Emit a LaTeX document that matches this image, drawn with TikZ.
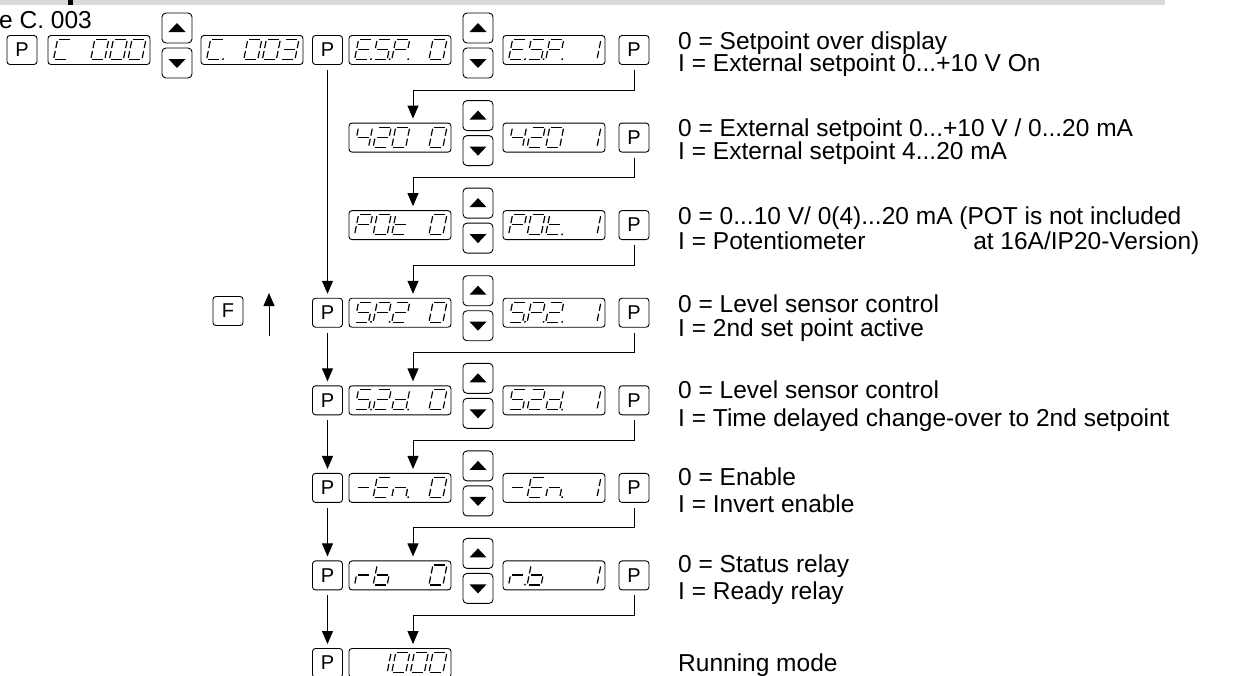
\documentclass[tikz,border=0pt]{standalone}
\usepackage{fontspec}
\setmainfont{Liberation Sans}
\usetikzlibrary{arrows.meta,calc}
% seven-segment geometry (local units, y downwards)
\def\SgA{1.5/0/12.5/0}
\def\SgB{14/1.5/14/8.5}
\def\SgC{14/11.5/14/18.5}
\def\SgD{1.5/20/12.5/20}
\def\SgE{0/11.5/0/18.5}
\def\SgF{0/1.5/0/8.5}
\def\SgG{1.5/10/12.5/10}
\edef\ChC{\SgA,\SgD,\SgE,\SgF}
\edef\ChZero{\SgA,\SgB,\SgC,\SgD,\SgE,\SgF}
\edef\ChOne{\SgB,\SgC}
\edef\ChTwo{\SgA,\SgB,\SgG,\SgE,\SgD}
\edef\ChThree{\SgA,\SgB,\SgG,\SgC,\SgD}
\edef\ChFour{\SgF,\SgG,\SgB,\SgC}
\edef\ChE{\SgA,\SgD,\SgE,\SgF,\SgG}
\edef\ChS{\SgA,\SgF,\SgG,\SgC,\SgD}
\edef\ChP{\SgA,\SgB,\SgE,\SgF,\SgG}
\edef\ChT{\SgD,\SgE,\SgF,\SgG}
\edef\ChR{\SgE,\SgG}
\edef\ChB{\SgC,\SgD,\SgE,\SgF,\SgG}
\edef\ChD{\SgB,\SgC,\SgD,\SgE,\SgG}
\edef\ChN{\SgC,\SgE,\SgG}
\edef\ChMinus{\SgG}
\newcommand\dig[3]{%
  \begin{scope}[shift={(#1.north west)},shift={({10+18.6*#2},4.5)},xslant=0.2]
    \foreach \xa/\ya/\xb/\yb in #3 {\draw[seg] (\xa,\ya) -- (\xb,\yb);}
  \end{scope}}
\newcommand\segdot[2]{%
  \begin{scope}[shift={(#1.north west)},shift={({10+18.6*#2},4.5)},xslant=0.2]
    \fill (15.6,18.9) rectangle (17.1,20.4);
  \end{scope}}
\newcommand\updown[3]{%
  \node[arw] (#1u) at (#2,#3-22) {};
  \node[arw] (#1d) at (#2,#3+13) {};
  \fill ([shift={(-8.5,4)}]#1u.center) -- ++(17,0) -- ++(-8.5,-9) -- cycle;
  \fill ([shift={(-8.5,-4)}]#1d.center) -- ++(17,0) -- ++(-8.5,9) -- cycle;}
\tikzset{
  btn/.style={draw, rounded corners=3pt, minimum width=30pt, minimum height=29pt,
    inner sep=0pt, line width=0.9pt, font=\fontsize{20}{20}\selectfont},
  disp/.style={draw, rounded corners=3pt, minimum width=102pt, minimum height=29pt,
    inner sep=0pt, line width=0.9pt},
  arw/.style={draw, rounded corners=4pt, minimum width=30pt, minimum height=30pt,
    inner sep=0pt, line width=0.9pt},
  seg/.style={line width=1.2pt},
  conn/.style={line width=0.9pt, -{Triangle[length=13pt,width=11pt]},
    shorten <=5pt, shorten >=4pt},
  desc/.style={anchor=base west, inner sep=0pt, font=\fontsize{24.5}{24.5}\selectfont},
}
\begin{document}
\begin{tikzpicture}[x=1pt,y=-1pt]
\useasboundingbox (0,0) rectangle (1255,675);
\fill[black!15] (0,0) rectangle (1165,4.5);
\fill (68,0) rectangle (72.5,4.5);
\node[desc] (hdr) at (-1,28) {e C. 003};

% ---------- row 1 ----------
\node[btn] (p1a) at (22,50) {P};
\node[disp] (d1a) at (99,50) {};
\dig{d1a}{0}{\ChC}\dig{d1a}{2}{\ChZero}\dig{d1a}{3}{\ChZero}\dig{d1a}{4}{\ChZero}
\updown{ua}{177}{50}
\node[disp] (d1b) at (252,50) {};
\dig{d1b}{0}{\ChC}\segdot{d1b}{0}\dig{d1b}{2}{\ChZero}\dig{d1b}{3}{\ChZero}\dig{d1b}{4}{\ChThree}
\node[btn] (p1b) at (327.5,50) {P};
\node[disp] (d1L) at (400,50) {};
\dig{d1L}{0}{\ChE}\segdot{d1L}{0}\dig{d1L}{1}{\ChS}\segdot{d1L}{1}\dig{d1L}{2}{\ChP}\segdot{d1L}{2}\dig{d1L}{4}{\ChZero}
\updown{u1}{478}{50}
\node[disp] (d1R) at (554,50) {};
\dig{d1R}{0}{\ChE}\segdot{d1R}{0}\dig{d1R}{1}{\ChS}\segdot{d1R}{1}\dig{d1R}{2}{\ChP}\segdot{d1R}{2}\dig{d1R}{4}{\ChOne}
\node[btn] (p1R) at (634,50) {P};

% ---------- row 2 ----------
\node[disp] (d2L) at (400,137.6) {};
\dig{d2L}{0}{\ChFour}\dig{d2L}{1}{\ChTwo}\dig{d2L}{2}{\ChZero}\dig{d2L}{4}{\ChZero}
\updown{u2}{478}{137.6}
\node[disp] (d2R) at (554,137.6) {};
\dig{d2R}{0}{\ChFour}\dig{d2R}{1}{\ChTwo}\dig{d2R}{2}{\ChZero}\dig{d2R}{4}{\ChOne}
\node[btn] (p2R) at (634,137.6) {P};

% ---------- row 3 ----------
\node[disp] (d3L) at (400,225.1) {};
\dig{d3L}{0}{\ChP}\dig{d3L}{1}{\ChZero}\dig{d3L}{2}{\ChT}\dig{d3L}{4}{\ChZero}
\updown{u3}{478}{225.1}
\node[disp] (d3R) at (554,225.1) {};
\dig{d3R}{0}{\ChP}\dig{d3R}{1}{\ChZero}\dig{d3R}{2}{\ChT}\segdot{d3R}{2}\dig{d3R}{4}{\ChOne}
\node[btn] (p3R) at (634,225.1) {P};

% ---------- row 4 ----------
\node[btn] (fkey) at (228,311) {F};
\coordinate (fa1) at (269,336);
\coordinate (fa2) at (269,293);
\draw[line width=0.9pt, -{Triangle[length=13pt,width=11pt]}] (fa1) -- (fa2);
\node[btn] (p4L) at (327.5,312.7) {P};
\node[disp] (d4L) at (400,312.7) {};
\dig{d4L}{0}{\ChS}\segdot{d4L}{0}\dig{d4L}{1}{\ChP}\segdot{d4L}{1}\dig{d4L}{2}{\ChTwo}\dig{d4L}{4}{\ChZero}
\updown{u4}{478}{312.7}
\node[disp] (d4R) at (554,312.7) {};
\dig{d4R}{0}{\ChS}\segdot{d4R}{0}\dig{d4R}{1}{\ChP}\segdot{d4R}{1}\dig{d4R}{2}{\ChTwo}\segdot{d4R}{2}\dig{d4R}{4}{\ChOne}
\node[btn] (p4R) at (634,312.7) {P};

% ---------- row 5 ----------
\node[btn] (p5L) at (327.5,400.3) {P};
\node[disp] (d5L) at (400,400.3) {};
\dig{d5L}{0}{\ChS}\segdot{d5L}{0}\dig{d5L}{1}{\ChTwo}\dig{d5L}{2}{\ChD}\segdot{d5L}{2}\dig{d5L}{4}{\ChZero}
\updown{u5}{478}{400.3}
\node[disp] (d5R) at (554,400.3) {};
\dig{d5R}{0}{\ChS}\dig{d5R}{1}{\ChTwo}\dig{d5R}{2}{\ChD}\segdot{d5R}{2}\dig{d5R}{4}{\ChOne}
\node[btn] (p5R) at (634,400.3) {P};

% ---------- row 6 ----------
\node[btn] (p6L) at (327.5,487.9) {P};
\node[disp] (d6L) at (400,487.9) {};
\dig{d6L}{0}{\ChMinus}\dig{d6L}{1}{\ChE}\dig{d6L}{2}{\ChN}\segdot{d6L}{2}\dig{d6L}{4}{\ChZero}
\updown{u6}{478}{487.9}
\node[disp] (d6R) at (554,487.9) {};
\dig{d6R}{0}{\ChMinus}\dig{d6R}{1}{\ChE}\dig{d6R}{2}{\ChN}\segdot{d6R}{2}\dig{d6R}{4}{\ChOne}
\node[btn] (p6R) at (634,487.9) {P};

% ---------- row 7 ----------
\node[btn] (p7L) at (327.5,575.4) {P};
\node[disp] (d7L) at (400,575.4) {};
\dig{d7L}{0}{\ChR}\dig{d7L}{1}{\ChB}\dig{d7L}{4}{\ChZero}
\updown{u7}{478}{575.4}
\node[disp] (d7R) at (554,575.4) {};
\dig{d7R}{0}{\ChR}\segdot{d7R}{0}\dig{d7R}{1}{\ChB}\dig{d7R}{4}{\ChOne}
\node[btn] (p7R) at (634,575.4) {P};

% ---------- row 8 ----------
\node[btn] (p8L) at (327.5,663) {P};
\node[disp] (d8) at (400,663) {};
\dig{d8}{1}{\ChOne}\dig{d8}{2}{\ChZero}\dig{d8}{3}{\ChZero}\dig{d8}{4}{\ChZero}

% ---------- connectors ----------
\draw[conn] (p1b.south) -- (p4L.north);
\draw[conn] (p4L.south) -- (p5L.north);
\draw[conn] (p5L.south) -- (p6L.north);
\draw[conn] (p6L.south) -- (p7L.north);
\draw[conn] (p7L.south) -- (p8L.north);
\draw[conn] (p1R.south) -- ++(0,25) -| ([xshift=13pt]d2L.north);
\draw[conn] (p2R.south) -- ++(0,25) -| ([xshift=13pt]d3L.north);
\draw[conn] (p3R.south) -- ++(0,25) -| ([xshift=13pt]d4L.north);
\draw[conn] (p4R.south) -- ++(0,25) -| ([xshift=13pt]d5L.north);
\draw[conn] (p5R.south) -- ++(0,25) -| ([xshift=13pt]d6L.north);
\draw[conn] (p6R.south) -- ++(0,25) -| ([xshift=13pt]d7L.north);
\draw[conn] (p7R.south) -- ++(0,25) -| ([xshift=13pt]d8.north);

% ---------- descriptions ----------
\node[desc] (t1a) at (678,49) {0 = Setpoint over display};
\node[desc] (t1b) at (678,71) {I = External setpoint 0...+10 V On};
\node[desc] (t2a) at (678,136) {0 = External setpoint 0...+10 V / 0...20 mA};
\node[desc] (t2b) at (678,159) {I = External setpoint 4...20 mA};
\node[desc] (t3a) at (678,224) {0 = 0...10 V/ 0(4)...20 mA (POT is not included};
\node[desc] (t3b) at (678,249) {I = Potentiometer\hspace*{4.4em}at 16A/IP20-Version)};
\node[desc] (t4a) at (678,312) {0 = Level sensor control};
\node[desc] (t4b) at (678,336) {I = 2nd set point active};
\node[desc] (t5a) at (678,398) {0 = Level sensor control};
\node[desc] (t5b) at (678,426) {I = Time delayed change-over to 2nd setpoint};
\node[desc] (t6a) at (678,485) {0 = Enable};
\node[desc] (t6b) at (678,512) {I = Invert enable};
\node[desc] (t7a) at (678,572) {0 = Status relay};
\node[desc] (t7b) at (678,599) {I = Ready relay};
\node[desc] (t8) at (678,671) {Running mode};
\end{tikzpicture}
\end{document}
